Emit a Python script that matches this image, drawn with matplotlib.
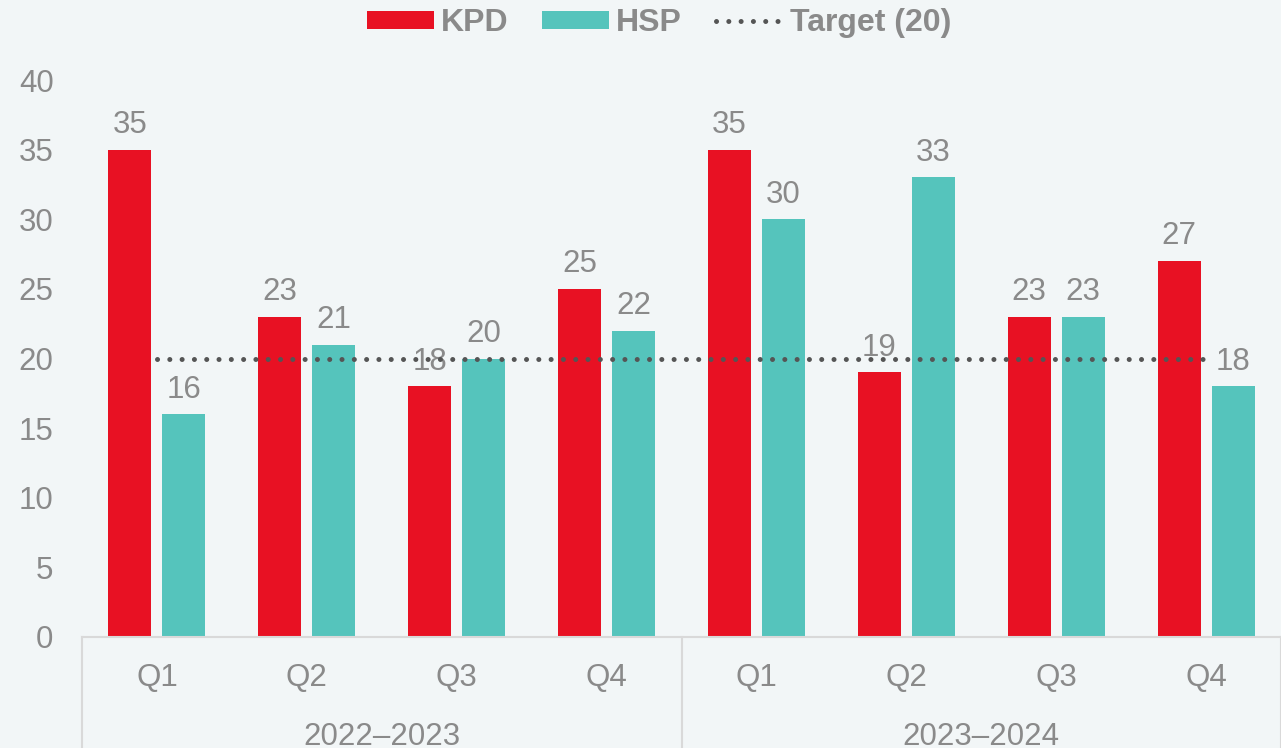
import matplotlib

matplotlib.use("Agg")
import matplotlib.pyplot as plt
import matplotlib.transforms as mtransforms
import numpy as np
from matplotlib.lines import Line2D
from matplotlib.patches import Patch

quarters = ["Q1", "Q2", "Q3", "Q4", "Q1", "Q2", "Q3", "Q4"]
years = ["2022\u20132023", "2023\u20132024"]
kpd = [35, 23, 18, 25, 35, 19, 23, 27]
hsp = [16, 21, 20, 22, 30, 33, 23, 18]
target = 20

RED = "#E81123"
TEAL = "#55C4BC"
GRAY = "#8A8A8A"
BG = "#F2F6F7"
GRID = "#D9D9D9"
FS = 22.5

plt.rcParams["font.family"] = ["Liberation Sans", "DejaVu Sans"]

fig = plt.figure(figsize=(12.81, 7.48), dpi=100, facecolor=BG)
W, H = 1281, 748
ax = fig.add_axes([82 / W, (H - 637) / H, (W - 82) / W, (637 - 80) / H])
ax.set_facecolor(BG)

x = np.arange(len(quarters))
bw = 0.287
off = 0.18
b1 = ax.bar(x - off, kpd, bw, color=RED, zorder=2)
b2 = ax.bar(x + off, hsp, bw, color=TEAL, zorder=2)

for bars, vals in ((b1, kpd), (b2, hsp)):
    for rect, v in zip(bars, vals):
        ax.annotate(str(v), (rect.get_x() + rect.get_width() / 2, v),
                    xytext=(0, 12), textcoords="offset points",
                    ha="center", va="baseline", fontsize=FS, color=GRAY)

ax.plot([x[0], x[-1]], [target, target], color="#555555", lw=3.6,
        linestyle=(0, (0.01, 2.45)), dash_capstyle="round", zorder=3)

ax.set_xlim(-0.5, len(quarters) - 0.5)
ax.set_ylim(0, 40)
ax.set_yticks(range(0, 41, 5))
ax.tick_params(axis="y", length=0, pad=20.5, labelsize=FS, labelcolor=GRAY)
ax.set_xticks([])
for s in ["top", "right", "left"]:
    ax.spines[s].set_visible(False)
ax.spines["bottom"].set_color(GRID)
ax.spines["bottom"].set_linewidth(1.5)

# two-level category axis: quarters, then fiscal years (cut at bottom edge)
trans = mtransforms.blended_transform_factory(ax.transData, ax.transAxes)
for xi, q in zip(x, quarters):
    ax.text(xi, -0.088, q, transform=trans, ha="center", va="baseline",
            fontsize=FS, color=GRAY)
for i, yr in enumerate(years):
    ax.text(1.5 + 4 * i, -0.194, yr, transform=trans, ha="center",
            va="baseline", fontsize=FS, color=GRAY)
for xd in (-0.5, 3.5, 7.5):
    ax.plot([xd, xd], [0, -0.3], transform=trans, color=GRID, lw=1.5,
            clip_on=False)

handles = [
    Patch(facecolor=RED, label="KPD"),
    Patch(facecolor=TEAL, label="HSP"),
    Line2D([0], [0], color="#555555", lw=3.6, linestyle=(0, (0.01, 2.45)),
           dash_capstyle="round", label="Target (20)"),
]
leg = fig.legend(handles=handles, loc="center", bbox_to_anchor=(659 / W, 1 - 23 / H),
                 ncol=3, frameon=False, handlelength=2.1, handleheight=0.5,
                 handletextpad=0.22, columnspacing=1.05,
                 prop={"size": 23, "weight": "bold"})
for t in leg.get_texts():
    t.set_color(GRAY)

fig.savefig("out.png", dpi=100, facecolor=BG)
